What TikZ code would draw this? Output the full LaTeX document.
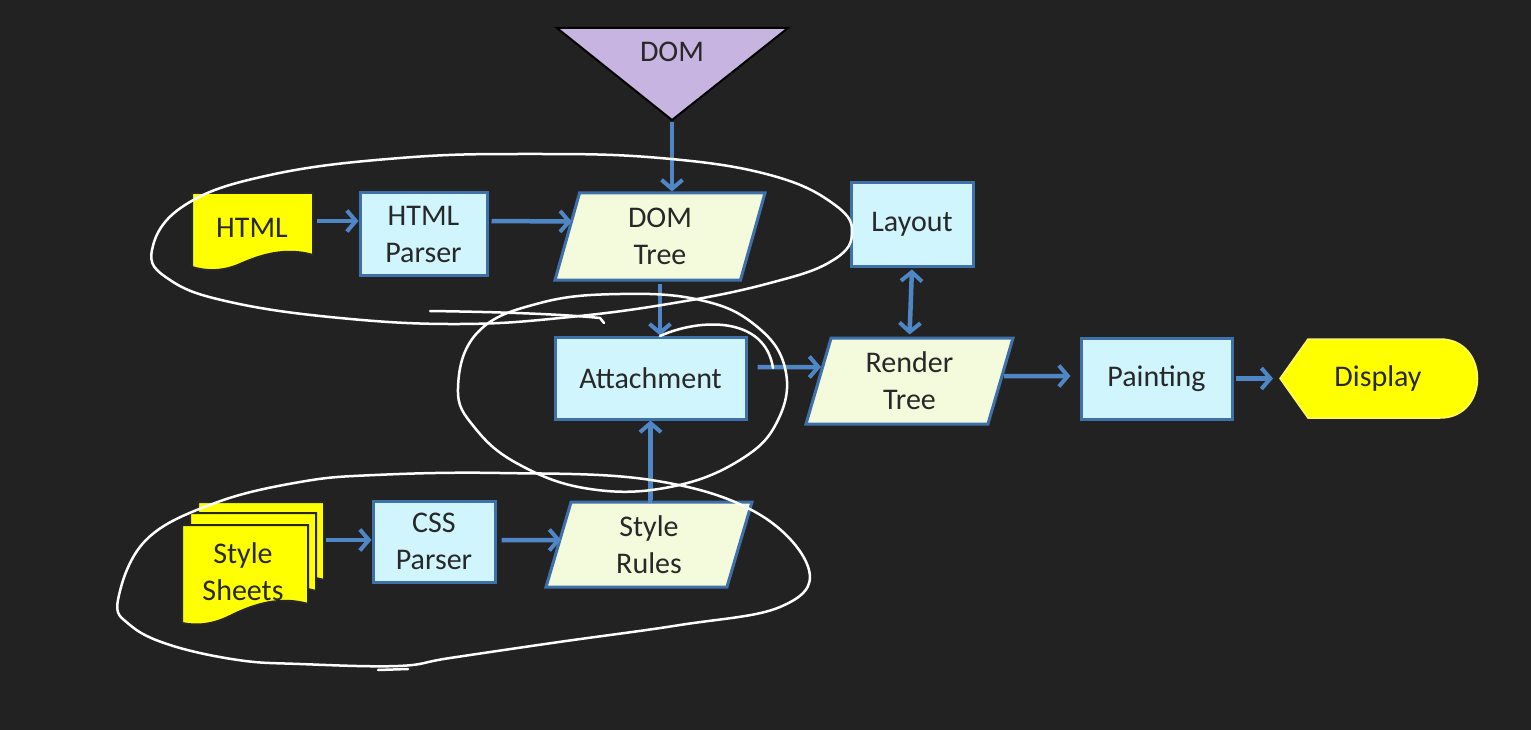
\documentclass[tikz,border=0pt]{standalone}
\usepackage{fontspec}
\setmainfont{Carlito}
\usetikzlibrary{arrows.meta,shapes.geometric,calc}
\definecolor{bgc}{RGB}{35,34,34}
\definecolor{boxfill}{RGB}{208,245,253}
\definecolor{boxline}{RGB}{62,112,170}
\definecolor{parafill}{RGB}{244,250,220}
\definecolor{arrowblue}{RGB}{79,134,198}
\definecolor{docyellow}{RGB}{255,255,0}
\definecolor{domlilac}{RGB}{200,180,225}
\definecolor{txt}{RGB}{40,40,40}
\tikzset{
  lbl/.style={font=\fontsize{30}{37}\selectfont, text=txt, align=center},
  procbox/.style={lbl, rectangle, draw=boxline, fill=boxfill, line width=3pt, inner sep=2pt},
  databox/.style={lbl, trapezium, trapezium left angle=68, trapezium right angle=112,
     trapezium stretches body=true, draw=boxline, fill=parafill, line width=3pt, inner sep=2pt},
  ghost/.style={lbl, rectangle, inner sep=0pt},
  docshape/.style={fill=docyellow, draw=black!85, line width=2pt},
  barb/.tip={Straight Barb[length=9pt,width=21pt,line width=4pt]},
  arr/.style={draw=arrowblue, line width=4.5pt, -barb},
  biarr/.style={draw=arrowblue, line width=4.5pt, barb-barb},
  scrib/.style={draw=white, line width=2.5pt, line cap=round, line join=round}
}
\begin{document}
\begin{tikzpicture}[x=1pt,y=-1pt]
\useasboundingbox (0,0) rectangle (1531,730);
\fill[bgc] (0,0) rectangle (1531,730);

% DOM triangle
\draw[fill=domlilac, draw=black, line width=2pt] (557,28) -- (788,28) -- (672,120) -- cycle;
\coordinate (domapex) at (672,120);
\node[ghost] (domlabel) at (672,52) {DOM};

% HTML document
\draw[docshape] (192,193) -- (313,193) -- (313,255)
   .. controls (285,247) and (260,255) .. (238,265)
   .. controls (220,272) and (205,271) .. (192,267) -- cycle;
\node[ghost, minimum width=121pt, minimum height=77pt] (html) at (252.5,231.5) {};
\node[ghost] (htmltext) at (252,228) {HTML};

% Style sheets stack
\draw[docshape] (198,502) -- (324,502) -- (324,580)
   .. controls (296,572) and (270,580) .. (246,592)
   .. controls (228,600) and (212,600) .. (198,596) -- cycle;
\draw[docshape] (190,513) -- (316,513) -- (316,591)
   .. controls (288,583) and (262,591) .. (238,603)
   .. controls (220,611) and (204,611) .. (190,607) -- cycle;
\draw[docshape] (182,525) -- (308,525) -- (308,604)
   .. controls (280,596) and (254,604) .. (230,616)
   .. controls (212,625) and (196,626) .. (182,623) -- cycle;
\node[ghost, minimum width=142pt, minimum height=100pt] (sheets) at (253,563) {};
\node[ghost] (sheetstext) at (243,572) {Style\\Sheets};

% Process boxes
\node[procbox, minimum width=127pt, minimum height=82pt] (parser) at (423.5,234) {HTML\\Parser};
\node[procbox, minimum width=122pt, minimum height=83pt] (layout) at (912,224.5) {Layout};
\node[procbox, minimum width=191pt, minimum height=82pt] (attach) at (650.5,378) {Attachment};
\node[procbox, minimum width=151pt, minimum height=81pt] (painting) at (1156.5,378.5) {Painting};
\node[procbox, minimum width=122pt, minimum height=81pt] (css) at (434,541.5) {CSS\\Parser};

% Data (parallelogram) boxes
\node[databox, minimum width=210pt, minimum height=87pt] (domtree) at (660,236.5) {DOM\\Tree};
\node[databox, minimum width=207pt, minimum height=86pt] (render) at (909.5,381) {Render\\Tree};
\node[databox, minimum width=206pt, minimum height=85pt] (rules) at (649,544.5) {Style\\Rules};

% Display
\draw[fill=docyellow, draw=yellow!60!white, line width=1.5pt]
   (1280,378.5) -- (1308,339) -- (1440,339)
   .. controls (1490,339) and (1490,418) .. (1440,418) -- (1308,418) -- cycle;
\coordinate (disptip) at (1280,378.5);
\node[ghost] (display) at (1378,379) {Display};

% Connectors
\draw[arr, shorten <=2pt] (domapex) -- (domapex |- domtree.north);
\draw[arr, shorten <=4pt] ([yshift=10.5pt]html.east) -- ([yshift=13pt]parser.west);
\draw[arr, shorten <=3pt] ([yshift=13pt]parser.east) -- ([yshift=15pt,xshift=6pt]domtree.west);
\draw[arr, shorten <=2pt] (domtree.south) -- (domtree.south |- attach.north);
\draw[biarr, shorten <=2pt, shorten >=2pt] (layout.south) -- (render.north);
\draw[arr, shorten <=10pt] ([yshift=11pt]attach.east) -- ([yshift=14pt,xshift=4pt]render.west);
\draw[arr, shorten >=9pt] ([yshift=5pt,xshift=2pt]render.east) -- ([yshift=2.5pt]painting.west);
\draw[arr, shorten <=2pt, shorten >=7pt] (painting.east) -- (disptip);
\draw[arr, shorten <=2pt] ([yshift=23pt]sheets.east) -- ([yshift=1.5pt]css.west);
\draw[arr, shorten <=5pt] ([yshift=1.5pt]css.east) -- ([yshift=4.5pt,xshift=4pt]rules.west);
\draw[arr, shorten <=2pt] (rules.north) -- (rules.north -| attach.south) -- (attach.south);

% White hand-drawn scribbles
\draw[scrib] plot[smooth cycle, tension=0.7] coordinates {(152,250) (185,205) (270,175) (400,158) (530,154) (660,158) (770,175) (835,205) (852,235) (830,262) (770,283) (680,302) (570,317) (460,324) (340,318) (230,302) (170,280)};
\draw[scrib] (430,311) .. controls (500,312) and (560,314) .. (600,318) -- (604,323);
\draw[scrib] plot[smooth cycle, tension=0.7] coordinates {(458,388) (478,332) (540,303) (620,294) (700,300) (755,325) (785,368) (778,420) (740,460) (670,487) (590,489) (520,465) (475,428)};
\draw[scrib] (660,336) .. controls (700,318) and (765,316) .. (773,368);
\draw[scrib] plot[smooth cycle, tension=0.65] coordinates {(118,600) (146,540) (215,503) (300,482) (375,475) (500,473) (651,480) (757,513) (809,570) (780,607) (680,625) (559,642) (450,658) (398,666) (300,664) (238,660) (170,645) (130,625)};
\draw[scrib] (378,670) -- (408,669);
\end{tikzpicture}
\end{document}
